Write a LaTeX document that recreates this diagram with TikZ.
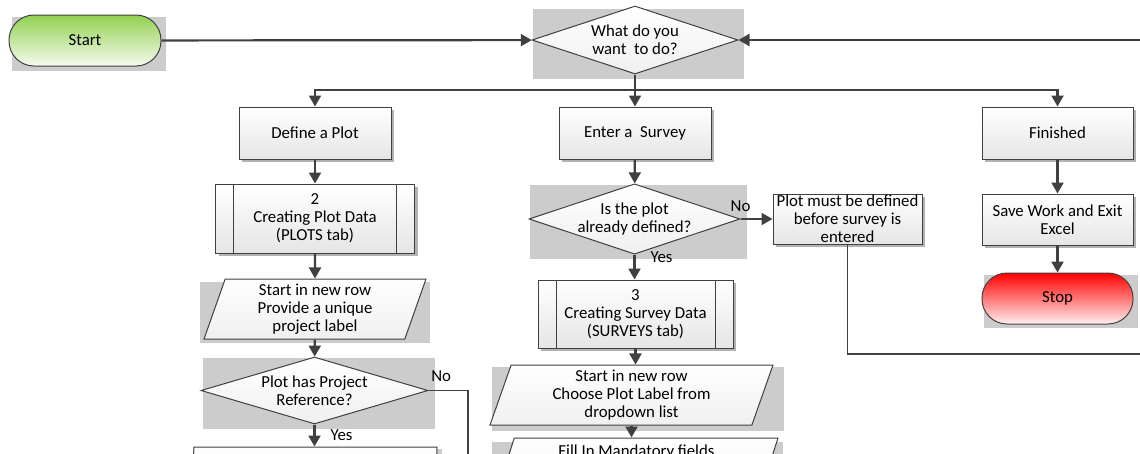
\documentclass[tikz,border=0pt]{standalone}
\usepackage{fontspec}
\setmainfont{Carlito}
\usetikzlibrary{positioning, shapes.geometric, arrows.meta, calc, shadows, backgrounds}

\definecolor{linegray}{RGB}{64,64,64}
\definecolor{backgray}{RGB}{204,204,204}
\definecolor{startgreen}{RGB}{146,208,80}
\definecolor{stopred}{RGB}{255,0,0}

\begin{document}
\begin{tikzpicture}[
                x=1pt, y=-1pt,
                font=\fontsize{16.8}{18}\selectfont,
                flow/.style={-{Triangle[length=11pt, width=12pt]}, line width=2.2pt, draw=linegray},
                thin_flow/.style={line width=1.5pt, draw=linegray},
                proc_box/.style={rectangle, draw=linegray, line width=1pt, top color=white, bottom color=black!10, align=center, minimum width=152pt, minimum height=52pt, inner sep=2pt, drop shadow={shadow xshift=3pt, shadow yshift=-3pt, fill=black!30, opacity=1}},
                sub_proc/.style={proc_box, path picture={
                    \draw[linegray, line width=1pt] ([xshift=18pt]path picture bounding box.north west) -- ([xshift=18pt]path picture bounding box.south west)
                        ([xshift=-18pt]path picture bounding box.north east) -- ([xshift=-18pt]path picture bounding box.south east);}},
                decision/.style={diamond, shape aspect=3, draw=linegray, line width=1pt, top color=white, bottom color=black!6, align=center, inner sep=0pt},
                io_box/.style={trapezium, trapezium left angle=68, trapezium right angle=112, trapezium stretches body, draw=linegray, line width=1pt, top color=white, bottom color=black!6, align=center, minimum height=60pt, inner sep=1pt},
                terminal/.style={rectangle, rounded corners=25pt, draw=linegray, line width=1pt, minimum width=152pt, minimum height=51pt},
                label_text/.style={inner sep=2pt}
            ]
                \useasboundingbox (0,0) rectangle (1140,453);
                \clip (0,0) rectangle (1140,453);

                % Start and main question
                \node[terminal, top color=startgreen, bottom color=startgreen!8] (start) at (85,40.5) {Start};
                \node[decision, minimum width=206pt, minimum height=68pt] (what) at (635,40) {What do you\\want~ to do?};
                \coordinate (right_in) at (1145,40);
                \coordinate (split) at (635,90);

                % Three branches
                \node[proc_box] (define_plot) at (315,133) {Define a Plot};
                \node[proc_box] (enter_survey) at (635,133) {Enter a~ Survey};
                \node[proc_box, minimum width=151pt] (finished) at (1057.5,133) {Finished};

                % Finished column
                \node[proc_box, minimum width=151pt, minimum height=51pt, below=34pt of finished] (save_exit) {Save Work and Exit\\Excel};
                \node[terminal, minimum width=151pt, top color=stopred, bottom color=stopred!6, below=27pt of save_exit] (stop) {Stop};

                % Plot column
                \node[sub_proc, minimum width=199pt, minimum height=69pt] (plot_data) at (315,218.5) {2\\Creating Plot Data\\(PLOTS tab)};
                \node[io_box, minimum width=222pt] (plot_label) at (315,309) {Start in new row\\Provide a unique\\project label};
                \node[decision, minimum width=227pt, minimum height=67pt] (has_ref) at (314.5,390.5) {Plot has Project\\Reference?};
                \node[io_box, minimum width=244pt] (ref_input) at (315,477) {};
                \coordinate (no_exit) at (468,460);

                % Survey column
                \node[decision, minimum width=197pt, minimum height=68pt] (is_defined) at (634.5,219) {Is the plot\\already defined?};
                \node[proc_box, minimum width=149pt, minimum height=50pt, inner ysep=0pt] (must_define) at (847.5,219) {Plot must be defined\\before survey is\\entered};
                \node[sub_proc, minimum width=195pt, minimum height=68pt] (survey_data) at (635.5,314) {3\\Creating Survey Data\\(SURVEYS tab)};
                \node[io_box, minimum width=283pt] (choose_label) at (631.5,395) {Start in new row\\Choose Plot Label from\\dropdown list};
                \node[io_box, minimum width=283pt, text depth=34pt] (fill_fields) at (636.5,468) {Fill In Mandatory fields};
                \coordinate (loop_exit) at (1145,354);

                % Connectors
                \draw[flow] (start) -- (what);
                \draw[flow] (right_in) -- (what.east);
                \draw[flow] (what) -- (enter_survey);
                \draw[flow] (split) -| (define_plot);
                \draw[flow] (split) -| (finished);

                \draw[flow] (define_plot) -- (plot_data);
                \draw[flow] (plot_data) -- (plot_label);
                \draw[flow] (plot_label) -- (has_ref);
                \draw[flow] (has_ref.south) -- (has_ref.south |- ref_input.north) node[midway, right=13pt, label_text] {Yes};
                \draw[thin_flow] (has_ref.east) -| (no_exit) node[pos=0, above right={6pt and 0pt}, label_text] {No};

                \draw[flow] (enter_survey) -- (is_defined);
                \draw[flow] (is_defined.east) -- (must_define.west) node[pos=0, above=4pt, label_text] {No};
                \draw[flow] (is_defined.south) -- (is_defined.south |- survey_data.north) node[pos=0.1, right=13pt, label_text] {Yes};
                \draw[flow] (survey_data.south) -- (survey_data.south |- choose_label.north);
                \draw[flow] (choose_label.south) -- (choose_label.south |- fill_fields.north);
                \draw[thin_flow] (must_define.south) |- (loop_exit);

                \draw[flow] (finished) -- (save_exit);
                \draw[flow] (save_exit) -- (stop);

                % Grey backdrops
                \begin{scope}[on background layer]
                    \fill[backgray] ($(start.north west)+(3,2)$) rectangle ($(start.south east)+(4,4)$);
                    \fill[backgray] ($(stop.north west)+(2,2)$) rectangle ($(stop.south east)+(4,3)$);
                    \fill[backgray] ($(what.west |- what.north)+(1,3)$) rectangle ($(what.east |- what.south)+(5,4)$);
                    \fill[backgray] ($(has_ref.west |- has_ref.north)+(2,1)$) rectangle ($(has_ref.east |- has_ref.south)+(6,4)$);
                    \fill[backgray] ($(is_defined.west |- is_defined.north)+(2,2)$) rectangle ($(is_defined.east |- is_defined.south)+(6,4)$);
                    \fill[backgray] ($(plot_label.bottom left corner |- plot_label.top right corner)+(-3,3)$) rectangle ($(plot_label.top right corner |- plot_label.bottom left corner)+(3,3)$);
                    \fill[backgray] ($(choose_label.bottom left corner |- choose_label.top right corner)+(3,2)$) rectangle ($(choose_label.top right corner |- choose_label.bottom left corner)+(10,5)$);
                    \fill[backgray] ($(ref_input.bottom left corner |- ref_input.top right corner)+(1,2)$) rectangle ($(ref_input.top right corner |- ref_input.bottom left corner)+(4,4)$);
                    \fill[backgray] ($(fill_fields.bottom left corner |- fill_fields.top right corner)+(-2,4)$) rectangle ($(fill_fields.top right corner |- fill_fields.bottom left corner)+(4,4)$);
                \end{scope}

            \end{tikzpicture}
\end{document}
